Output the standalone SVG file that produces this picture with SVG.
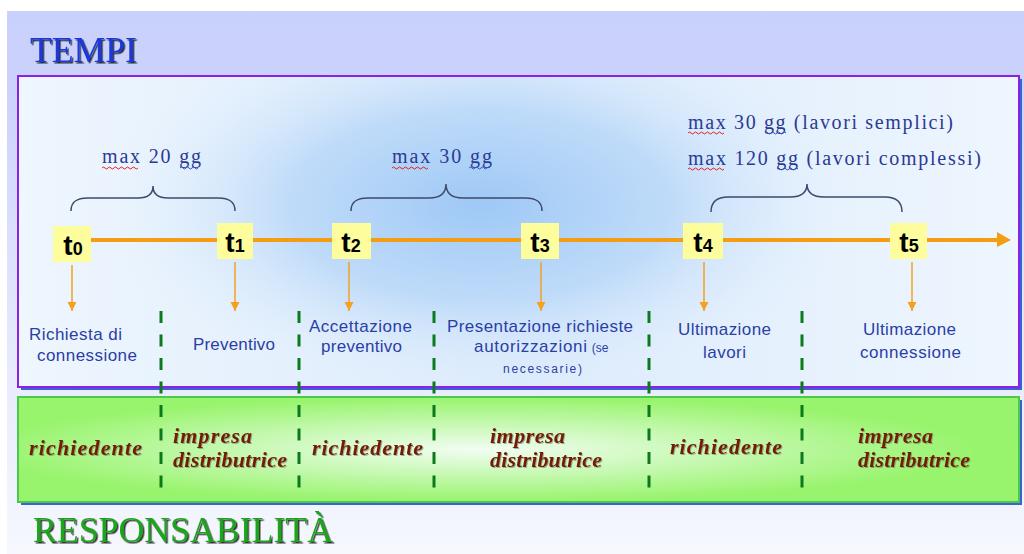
<svg xmlns="http://www.w3.org/2000/svg" width="1024" height="554" viewBox="0 0 1024 554">
  <defs>
    <linearGradient id="bgGrad" x1="0" y1="0" x2="0" y2="1">
      <stop offset="0" stop-color="#c8d0fc"/>
      <stop offset="0.15" stop-color="#cbd3fc"/>
      <stop offset="0.6" stop-color="#e4e8fc"/>
      <stop offset="1" stop-color="#f6f8fe"/>
    </linearGradient>
    <linearGradient id="panelBase" x1="0" y1="0" x2="1" y2="0">
      <stop offset="0" stop-color="#eef6fe"/>
      <stop offset="0.5" stop-color="#dcebfc"/>
      <stop offset="1" stop-color="#eef6fe"/>
    </linearGradient>
    <radialGradient id="panelGrad" gradientUnits="userSpaceOnUse" cx="480" cy="205" r="380" gradientTransform="translate(480 205) scale(1 0.5) translate(-480 -205)">
      <stop offset="0" stop-color="#9ec8f6" stop-opacity="1"/>
      <stop offset="0.5" stop-color="#b6d6f8" stop-opacity="0.8"/>
      <stop offset="1" stop-color="#e6f1fd" stop-opacity="0"/>
    </radialGradient>
    <radialGradient id="greenGrad" cx="0.46" cy="0.5" r="0.5">
      <stop offset="0" stop-color="#f2fdf2"/>
      <stop offset="0.45" stop-color="#c9f9b6"/>
      <stop offset="1" stop-color="#98f46c"/>
    </radialGradient>
    <filter id="shadowDark" x="-10%" y="-20%" width="120%" height="150%">
      <feDropShadow dx="1.5" dy="1.5" stdDeviation="0.3" flood-color="#000000" flood-opacity="0.8"/>
    </filter>
    <filter id="shadowSoft" x="-10%" y="-20%" width="120%" height="150%">
      <feDropShadow dx="1" dy="1" stdDeviation="0.4" flood-color="#555555" flood-opacity="0.45"/>
    </filter>
    <marker id="downArrow" markerUnits="userSpaceOnUse" markerWidth="9" markerHeight="10" refX="9" refY="4.5" orient="auto">
      <path d="M0,0 L9,4.5 L0,9 Z" fill="#f5a020"/>
    </marker>
    <style>
      .tbox { fill: #fdfd9d; }
      .tlab { font-family: "Liberation Sans", Arial, sans-serif; font-weight: bold; fill: #000; text-anchor: middle; }
      .lbl { font-family: "Liberation Sans", Arial, sans-serif; font-size: 17px; fill: #2a3ea6; }
      .sm { font-size: 12px; }
      .mx { font-family: "Liberation Serif", "Times New Roman", serif; font-size: 20px; fill: #2a3a94; }
      .resp { font-family: "Liberation Serif", "Times New Roman", serif; font-size: 22px; font-weight: bold; font-style: italic; fill: #741c00; filter: url(#shadowSoft); }
      .brace { fill: none; stroke: #3d4a6b; stroke-width: 1.5; }
      .down { stroke: #f5a020; stroke-width: 1.5; marker-end: url(#downArrow); }
      .dash { stroke: #0b7a1c; stroke-width: 3; stroke-dasharray: 12 11.5; }
      .wavyR { fill: none; stroke: #e02020; stroke-width: 1; }
      .wavyB { fill: none; stroke: #3050c0; stroke-width: 1; }
    </style>
  </defs>

  <!-- background -->
  <rect x="0" y="0" width="1024" height="554" fill="#ffffff"/>
  <rect x="7" y="11" width="1017" height="543" fill="url(#bgGrad)"/>

  <!-- timeline panel -->
  <g id="panel-tempi">
    <rect x="21" y="79" width="1001" height="311" fill="#3b62d4"/>
    <rect x="18" y="76" width="1001" height="311" fill="url(#panelBase)"/>
    <rect x="18" y="76" width="1001" height="311" fill="url(#panelGrad)" stroke="#8a22e6" stroke-width="2"/>
  </g>

  <!-- responsibility panel -->
  <g id="panel-resp">
    <rect x="21" y="400" width="1001" height="105" fill="#3b62d4"/>
    <rect x="18" y="397" width="1001" height="105" fill="url(#greenGrad)" stroke="#4cc84c" stroke-width="2"/>
  </g>

  <!-- titles -->
  <g id="title-tempi">
    <text x="30" y="62" font-family="Liberation Serif, 'Times New Roman', serif" font-size="36" fill="#1a38d8" filter="url(#shadowDark)" textLength="107" lengthAdjust="spacingAndGlyphs">TEMPI</text>
  </g>
  <g id="title-resp">
    <text x="33" y="542" font-family="Liberation Serif, 'Times New Roman', serif" font-size="36" fill="#1fa41f" filter="url(#shadowDark)" textLength="300" lengthAdjust="spacingAndGlyphs">RESPONSABILITÀ</text>
  </g>

  <!-- connectors -->
  <g id="connectors">
    <line x1="72" y1="240" x2="999" y2="240" stroke="#f59d12" stroke-width="4"/>
    <polygon points="997,232 1011,240 997,247" fill="#f59d12"/>
    <line class="down" x1="72" y1="265" x2="72" y2="311"/>
    <line class="down" x1="235" y1="262" x2="235" y2="311"/>
    <line class="down" x1="349" y1="262" x2="349" y2="311"/>
    <line class="down" x1="541" y1="262" x2="541" y2="311"/>
    <line class="down" x1="704" y1="262" x2="704" y2="311"/>
    <line class="down" x1="912" y1="262" x2="912" y2="311"/>
    <path class="brace" d="M71,211 C71,202 76,198 88,198 L138,198 C148,198 153,194 153,186 C153,194 158,198 168,198 L218,198 C230,198 235,202 235,211"/>
    <path class="brace" d="M351,211 C351,202 356,198 368,198 L429,198 C440,198 446,194 446,184 C446,194 452,198 463,198 L525,198 C537,198 542,202 542,211"/>
    <path class="brace" d="M711,212 C711,202 716,197 728,197 L790,197 C801,197 807,193 807,184 C807,193 813,197 824,197 L885,197 C897,197 902,202 902,212"/>
    <line class="dash" x1="161" y1="311" x2="161" y2="492"/>
    <line class="dash" x1="299" y1="311" x2="299" y2="492"/>
    <line class="dash" x1="434" y1="311" x2="434" y2="492"/>
    <line class="dash" x1="649" y1="311" x2="649" y2="492"/>
    <line class="dash" x1="802" y1="311" x2="802" y2="492"/>
  </g>

  <!-- time nodes -->
  <g id="t0"><rect class="tbox" x="53" y="226" width="38" height="36"/><text class="tlab" x="73" y="255"><tspan font-size="28">t</tspan><tspan font-size="18">0</tspan></text></g>
  <g id="t1"><rect class="tbox" x="217" y="223" width="36" height="36"/><text class="tlab" x="235" y="252"><tspan font-size="28">t</tspan><tspan font-size="18">1</tspan></text></g>
  <g id="t2"><rect class="tbox" x="332" y="223" width="39" height="36"/><text class="tlab" x="351" y="252"><tspan font-size="28">t</tspan><tspan font-size="18">2</tspan></text></g>
  <g id="t3"><rect class="tbox" x="521" y="223" width="38" height="36"/><text class="tlab" x="540" y="252"><tspan font-size="28">t</tspan><tspan font-size="18">3</tspan></text></g>
  <g id="t4"><rect class="tbox" x="683" y="223" width="40" height="36"/><text class="tlab" x="703" y="252"><tspan font-size="28">t</tspan><tspan font-size="18">4</tspan></text></g>
  <g id="t5"><rect class="tbox" x="890" y="223" width="37" height="36"/><text class="tlab" x="909" y="252"><tspan font-size="28">t</tspan><tspan font-size="18">5</tspan></text></g>

  <!-- duration labels -->
  <g id="dur1">
    <text class="mx" x="102" y="163" textLength="99" lengthAdjust="spacing">max 20 gg</text>
    <path class="wavyR" d="M102,168 q1.5,-2 3,0 t3,0 t3,0 t3,0 t3,0 t3,0 t3,0 t3,0 t3,0 t3,0 t3,0 t3,0"/>
    <path class="wavyB" d="M180,168 q1.5,-2 3,0 t3,0 t3,0 t3,0 t3,0 t3,0"/>
  </g>
  <g id="dur2">
    <text class="mx" x="392" y="163" textLength="100" lengthAdjust="spacing">max 30 gg</text>
    <path class="wavyR" d="M392,168 q1.5,-2 3,0 t3,0 t3,0 t3,0 t3,0 t3,0 t3,0 t3,0 t3,0 t3,0 t3,0 t3,0"/>
    <path class="wavyB" d="M469,168 q1.5,-2 3,0 t3,0 t3,0 t3,0 t3,0 t3,0 t3,0"/>
  </g>
  <g id="dur3">
    <text class="mx" x="688" y="129" textLength="265" lengthAdjust="spacing">max 30 gg (lavori semplici)</text>
    <text class="mx" x="688" y="165" textLength="293" lengthAdjust="spacing">max 120 gg (lavori complessi)</text>
    <path class="wavyR" d="M688,133 q1.5,-2 3,0 t3,0 t3,0 t3,0 t3,0 t3,0 t3,0 t3,0 t3,0 t3,0 t3,0 t3,0"/>
    <path class="wavyB" d="M765,133 q1.5,-2 3,0 t3,0 t3,0 t3,0 t3,0 t3,0 t3,0"/>
    <path class="wavyR" d="M688,169 q1.5,-2 3,0 t3,0 t3,0 t3,0 t3,0 t3,0 t3,0 t3,0 t3,0 t3,0 t3,0 t3,0"/>
    <path class="wavyB" d="M777,169 q1.5,-2 3,0 t3,0 t3,0 t3,0 t3,0 t3,0 t3,0"/>
  </g>

  <!-- event labels -->
  <g id="ev0">
    <text class="lbl" x="29" y="340" textLength="93" lengthAdjust="spacing">Richiesta di</text>
    <text class="lbl" x="37" y="361" textLength="100" lengthAdjust="spacing">connessione</text>
  </g>
  <g id="ev1"><text class="lbl" x="193" y="350" textLength="82" lengthAdjust="spacing">Preventivo</text></g>
  <g id="ev2">
    <text class="lbl" x="309" y="332" textLength="103" lengthAdjust="spacing">Accettazione</text>
    <text class="lbl" x="321" y="352" textLength="81" lengthAdjust="spacing">preventivo</text>
  </g>
  <g id="ev3">
    <text class="lbl" x="447" y="332" textLength="186" lengthAdjust="spacing">Presentazione richieste</text>
    <text class="lbl" x="474" y="352"><tspan textLength="113" lengthAdjust="spacing">autorizzazioni</tspan><tspan class="sm" dx="4">(se</tspan></text>
    <text class="lbl sm" x="503" y="373" textLength="79" lengthAdjust="spacing">necessarie)</text>
  </g>
  <g id="ev4">
    <text class="lbl" x="678" y="335" textLength="93" lengthAdjust="spacing">Ultimazione</text>
    <text class="lbl" x="703" y="358" textLength="43" lengthAdjust="spacing">lavori</text>
  </g>
  <g id="ev5">
    <text class="lbl" x="863" y="335" textLength="93" lengthAdjust="spacing">Ultimazione</text>
    <text class="lbl" x="860" y="358" textLength="101" lengthAdjust="spacing">connessione</text>
  </g>

  <!-- responsibility labels -->
  <g id="r0"><text class="resp" x="29" y="455" textLength="113" lengthAdjust="spacing">richiedente</text></g>
  <g id="r1">
    <text class="resp" x="173" y="443" textLength="79" lengthAdjust="spacing">impresa</text>
    <text class="resp" x="173" y="467" textLength="114" lengthAdjust="spacing">distributrice</text>
  </g>
  <g id="r2"><text class="resp" x="312" y="455" textLength="111" lengthAdjust="spacing">richiedente</text></g>
  <g id="r3">
    <text class="resp" x="490" y="443" textLength="75" lengthAdjust="spacing">impresa</text>
    <text class="resp" x="490" y="467" textLength="112" lengthAdjust="spacing">distributrice</text>
  </g>
  <g id="r4"><text class="resp" x="670" y="454" textLength="112" lengthAdjust="spacing">richiedente</text></g>
  <g id="r5">
    <text class="resp" x="858" y="443" textLength="75" lengthAdjust="spacing">impresa</text>
    <text class="resp" x="858" y="467" textLength="112" lengthAdjust="spacing">distributrice</text>
  </g>
</svg>
